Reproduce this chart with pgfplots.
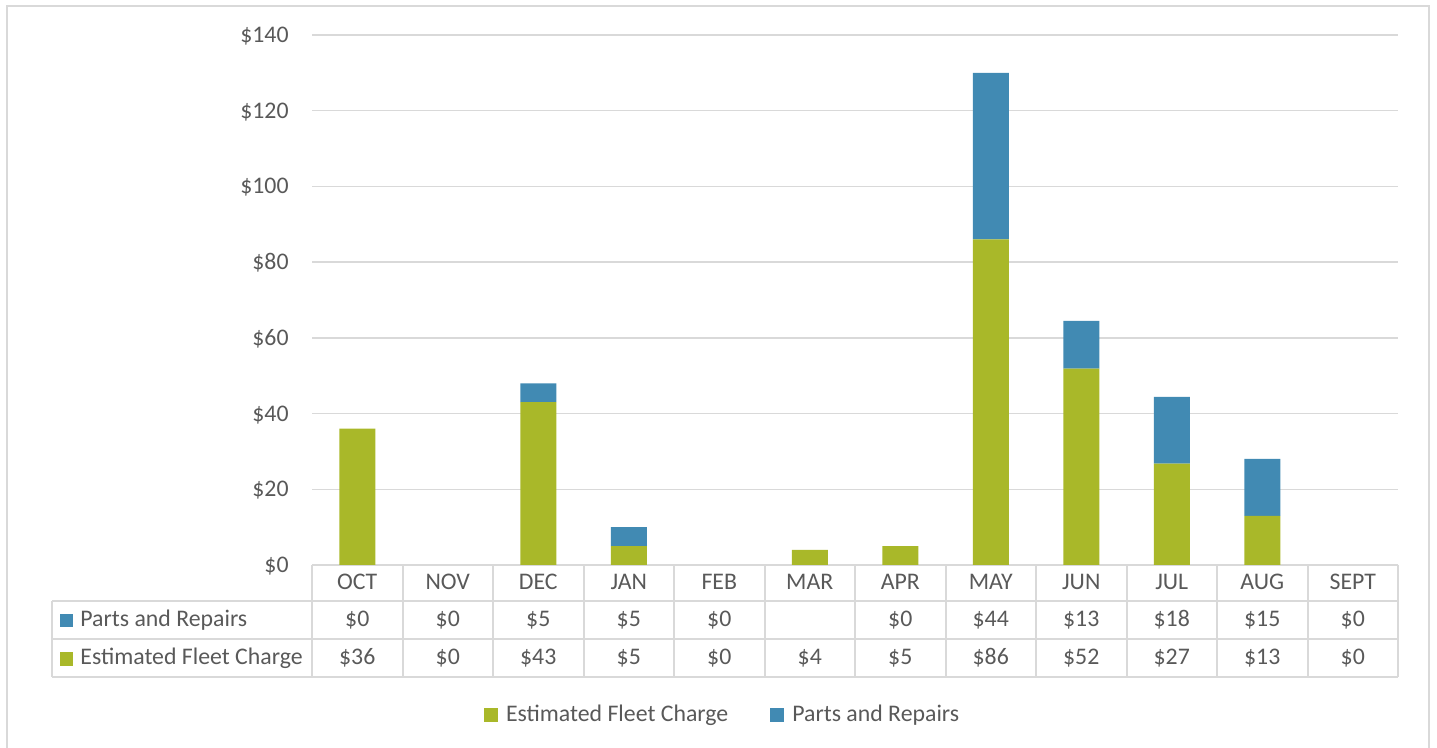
\documentclass[border=0pt]{standalone}
\usepackage{pgfplots}
\pgfplotsset{compat=1.18}
\usepackage{fontspec}
\setmainfont{Carlito}
\definecolor{fleet}{HTML}{A9B829}
\definecolor{parts}{HTML}{418AB3}
\definecolor{gridc}{HTML}{D9D9D9}
\definecolor{txt}{HTML}{595959}
\newcommand{\cf}{\fontsize{11.9}{14}\selectfont}
\begin{document}
\begin{tikzpicture}[x=0.5pt,y=0.5pt]
\useasboundingbox (0,0) rectangle (1437,748);
% outer chart border (bottom edge cut off in the reference)
\draw[gridc, line width=1pt] (6.5,0) -- (6.5,741.5) -- (1428.5,741.5) -- (1428.5,0);
\begin{axis}[at={(156pt,91.5pt)}, anchor=south west, scale only axis,
  width=543pt, height=265pt,
  ymin=0, ymax=140, xmin=-0.5, xmax=11.5,
  ybar stacked, bar width=18pt,
  ytick={0,20,...,140},
  yticklabel={\$\pgfmathprintnumber{\tick}},
  xtick={0,...,11},
  xticklabels={OCT,NOV,DEC,JAN,FEB,MAR,APR,MAY,JUN,JUL,AUG,SEPT},
  tick label style={font=\cf, text=txt},
  xticklabel style={anchor=base, inner sep=0pt, yshift=-12.5pt},
  yticklabel style={anchor=base east, inner sep=0pt, xshift=-11.5pt, yshift=-3.75pt},
  /pgf/number format/assume math mode=true,
  major tick length=0pt,
  ymajorgrids, grid style={gridc, line width=0.75pt},
  axis lines*=left,
  y axis line style={draw=none},
  x axis line style={gridc, line width=1pt},
  clip=false,
  legend columns=2,
  legend style={at={(0.379,-0.283)}, anchor=center, draw=none, fill=none,
    font=\cf, text=txt, inner sep=0pt,
    /tikz/every odd column/.append style={column sep=2pt},
    /tikz/every even column/.append style={column sep=19pt}},
  legend image code/.code={\fill[#1] (0pt,-3.5pt) rectangle (7pt,3.5pt);},
]
\addplot[fill=fleet, draw=none] coordinates
 {(0,36)(1,0)(2,43)(3,5)(4,0)(5,4)(6,5)(7,86)(8,51.9)(9,26.8)(10,13)(11,0)};
\addplot[fill=parts, draw=none] coordinates
 {(0,0)(1,0)(2,5)(3,5)(4,0)(5,0)(6,0)(7,44)(8,12.6)(9,17.6)(10,15)(11,0)};
\legend{Estimated Fleet Charge, Parts and Repairs}
\end{axis}
% data table below the axis
\draw[gridc, line width=1pt] (52,147) -- (1398,147) (52,109) -- (1398,109)
  (52,71) -- (1398,71) (52,147) -- (52,71);
\foreach \k in {0,...,12} \draw[gridc, line width=1pt] ({312+90.5*\k},183) -- ({312+90.5*\k},71);
\fill[parts] (60,121) rectangle (73,134);
\fill[fleet] (60,82) rectangle (73,96);
\node[anchor=base west, inner sep=0pt, font=\cf, text=txt] at (80,121) {Parts and Repairs};
\node[anchor=base west, inner sep=0pt, font=\cf, text=txt] at (80,83) {Estimated Fleet Charge};
\foreach \v [count=\i from 0] in {\$0,\$0,\$5,\$5,\$0,{},\$0,\$44,\$13,\$18,\$15,\$0}
  \node[anchor=base, inner sep=0pt, font=\cf, text=txt] at ({357.25+90.5*\i},121) {\v};
\foreach \v [count=\i from 0] in {\$36,\$0,\$43,\$5,\$0,\$4,\$5,\$86,\$52,\$27,\$13,\$0}
  \node[anchor=base, inner sep=0pt, font=\cf, text=txt] at ({357.25+90.5*\i},83) {\v};
\end{tikzpicture}
\end{document}
